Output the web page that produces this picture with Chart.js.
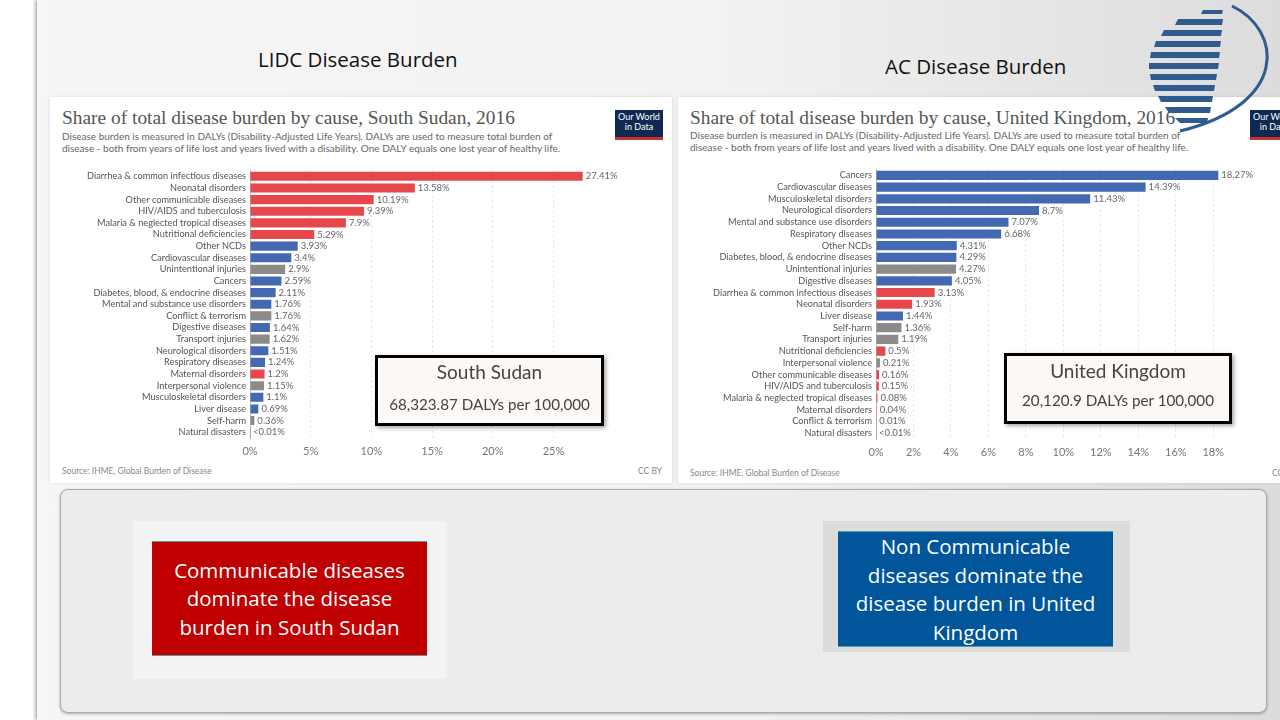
<!DOCTYPE html>
<html><head><meta charset="utf-8">
<script src="https://cdn.jsdelivr.net/npm/chart.js@4.4.1/dist/chart.umd.min.js"></script>
<style>
html,body{margin:0;padding:0;width:1280px;height:720px;overflow:hidden;background:#fff;}
#slide{position:absolute;left:37px;top:0;width:1243px;height:720px;background:linear-gradient(to right,#f6f6f6 0%,#f2f2f2 55%,#dcdcdc 100%);box-shadow:-2px 0 3px rgba(0,0,0,0.3);}
.abs{position:absolute;}
.hdr{position:absolute;font-family:'Open Sans';font-size:20.5px;color:#111;white-space:nowrap;}
.panel{position:absolute;background:#fff;box-shadow:0 0 3px rgba(0,0,0,0.12);}
.ttl{position:absolute;font-family:'Liberation Serif';font-size:19.4px;color:#555;white-space:nowrap;}
.sub{position:absolute;font-family:'Lato';font-size:10px;line-height:12px;color:#666;white-space:nowrap;}
.src{position:absolute;font-family:'Lato';font-size:8.5px;color:#888;white-space:nowrap;}
.owid{position:absolute;width:48px;height:25px;background:#0f2a52;border-bottom:3px solid #c8312b;color:#fff;font-family:'Lato';font-size:9px;line-height:10px;text-align:center;padding-top:2px;box-sizing:content-box;}
.ov{position:absolute;background:#fcf9f7;border:3px solid #000;box-shadow:2px 2px 4px rgba(0,0,0,0.35);text-align:center;font-family:'Lato';color:#444;}
.ov .a{font-size:19px;position:absolute;left:0;right:0;}
.ov .b{font-size:15.2px;position:absolute;left:0;right:0;}
canvas{position:absolute;}
.msg{position:absolute;display:flex;align-items:center;justify-content:center;text-align:center;color:#fff;font-family:'Open Sans';font-size:20.5px;line-height:28.5px;box-sizing:border-box;}
</style></head>
<body>
<div id="slide"></div>
<div class="hdr" style="left:258px;top:45px;">LIDC Disease Burden</div>
<div class="hdr" style="left:885px;top:52px;">AC Disease Burden</div>

<div class="panel" style="left:50px;top:97px;width:622px;height:386px;"></div>
<div class="panel" style="left:678px;top:97px;width:602px;height:386px;"></div>

<div class="ttl" style="left:62px;top:107px;">Share of total disease burden by cause, South Sudan, 2016</div>
<div class="sub" style="left:62px;top:130px;">Disease burden is measured in DALYs (Disability-Adjusted Life Years). DALYs are used to measure total burden of<br>disease - both from years of life lost and years lived with a disability. One DALY equals one lost year of healthy life.</div>
<div class="owid" style="left:615px;top:110px;">Our World<br>in Data</div>
<div class="src" style="left:62px;top:466px;">Source: IHME, Global Burden of Disease</div>
<div class="src" style="left:638px;top:466px;">CC BY</div>

<div class="ttl" style="left:690px;top:107px;">Share of total disease burden by cause, United Kingdom, 2016</div>
<div class="sub" style="left:690px;top:129px;">Disease burden is measured in DALYs (Disability-Adjusted Life Years). DALYs are used to measure total burden of<br>disease - both from years of life lost and years lived with a disability. One DALY equals one lost year of healthy life.</div>
<div class="owid" style="left:1250px;top:110px;">Our World<br>in Data</div>
<div class="src" style="left:690px;top:468px;">Source: IHME, Global Burden of Disease</div>
<div class="src" style="left:1272px;top:468px;">CC BY</div>

<canvas id="c1" width="622" height="304" style="left:50px;top:161px;"></canvas>
<canvas id="c2" width="602" height="305" style="left:678px;top:160px;"></canvas>

<div class="ov" style="left:375px;top:355px;width:223px;height:65px;"><div class="a" style="top:2px;">South Sudan</div><div class="b" style="top:37px;">68,323.87 DALYs per 100,000</div></div>
<div class="ov" style="left:1004px;top:353px;width:222px;height:65px;"><div class="a" style="top:3px;">United Kingdom</div><div class="b" style="top:35px;">20,120.9 DALYs per 100,000</div></div>

<svg class="abs" style="left:1140px;top:0px;" width="140" height="140" viewBox="1140 0 140 140">
 <g fill="#2f5b8e">
  <polygon points="1203,10 1223,10 1222,14 1201,14"/>
  <polygon points="1178,19 1223,19 1222,25 1175,25"/>
  <polygon points="1164,30 1222,30 1221,36 1161,36"/>
  <polygon points="1156,41 1221,41 1220,47 1154,47"/>
  <polygon points="1151,52 1220,52 1219,58 1150,58"/>
  <polygon points="1149,63 1219,63 1218,69 1149,69"/>
  <polygon points="1150,74 1217,74 1216,80 1151,80"/>
  <polygon points="1153,85 1215,85 1214,91 1155,91"/>
  <polygon points="1158,96 1213,96 1212,102 1161,102"/>
  <polygon points="1165,107 1211,107 1210,113 1169,113"/>
  <polygon points="1175,118 1208,118 1207,123 1180,123"/>
 </g>
 <path d="M1232,6 C1282,30 1290,104 1180,131" fill="none" stroke="#2f5b8e" stroke-width="3"/>
</svg>

<div class="abs" style="left:60px;top:489px;width:1205px;height:222px;background:#ececec;border:1px solid #a9a9a9;border-radius:8px;box-shadow:0 1px 3px rgba(0,0,0,0.3);"></div>
<div class="abs" style="left:133px;top:521px;width:314px;height:158px;background:#f3f3f3;"></div>
<div class="msg" style="left:152px;top:541px;width:275px;height:115px;background:#c00000;border-top:1px solid #5a9a9a;border-bottom:1px solid #5a9a9a;">Communicable diseases<br>dominate the disease<br>burden in South Sudan</div>
<div class="abs" style="left:823px;top:521px;width:307px;height:131px;background:#dcdcdc;"></div>
<div class="msg" style="left:838px;top:531px;width:275px;height:116px;background:#00559b;border-top:1px solid #5a9a9a;border-bottom:1px solid #5a9a9a;">Non Communicable<br>diseases dominate the<br>disease burden in United<br>Kingdom</div>

<script>
const ssCategories = ["Diarrhea & common infectious diseases","Neonatal disorders","Other communicable diseases","HIV/AIDS and tuberculosis","Malaria & neglected tropical diseases","Nutritional deficiencies","Other NCDs","Cardiovascular diseases","Unintentional injuries","Cancers","Diabetes, blood, & endocrine diseases","Mental and substance use disorders","Conflict & terrorism","Digestive diseases","Transport injuries","Neurological disorders","Respiratory diseases","Maternal disorders","Interpersonal violence","Musculoskeletal disorders","Liver disease","Self-harm","Natural disasters"];
const ssValues = [27.41,13.58,10.19,9.39,7.9,5.29,3.93,3.4,2.9,2.59,2.11,1.76,1.76,1.64,1.62,1.51,1.24,1.2,1.15,1.1,0.69,0.36,0.004];
const ssGroups = ["C","C","C","C","C","C","N","N","I","N","N","N","I","N","I","N","N","C","I","N","N","I","I"];
const ssTicks = [0,5,10,15,20,25];

const ukCategories = ["Cancers","Cardiovascular diseases","Musculoskeletal disorders","Neurological disorders","Mental and substance use disorders","Respiratory diseases","Other NCDs","Diabetes, blood, & endocrine diseases","Unintentional injuries","Digestive diseases","Diarrhea & common infectious diseases","Neonatal disorders","Liver disease","Self-harm","Transport injuries","Nutritional deficiencies","Interpersonal violence","Other communicable diseases","HIV/AIDS and tuberculosis","Malaria & neglected tropical diseases","Maternal disorders","Conflict & terrorism","Natural disasters"];
const ukValues = [18.27,14.39,11.43,8.7,7.07,6.68,4.31,4.29,4.27,4.05,3.13,1.93,1.44,1.36,1.19,0.5,0.21,0.16,0.15,0.08,0.04,0.01,0.004];
const ukGroups = ["N","N","N","N","N","N","N","N","I","N","C","C","N","I","I","C","I","C","C","C","C","I","I"];
const ukTicks = [0,2,4,6,8,10,12,14,16,18];

const groupColor = {C:"#e6474b", N:"#4369b2", I:"#8b8b8b"};

const valueLabels = {
  id:'valueLabels',
  afterDatasetsDraw(chart){
    const ctx = chart.ctx;
    const meta = chart.getDatasetMeta(0);
    const vals = chart.data.datasets[0].data;
    ctx.save();
    ctx.font = '9.5px Lato';
    ctx.fillStyle = '#666';
    ctx.textBaseline = 'middle';
    ctx.textAlign = 'left';
    meta.data.forEach((bar,i)=>{
      const v = vals[i];
      const t = v < 0.01 ? '<0.01%' : v + '%';
      ctx.fillText(t, bar.x + 3, bar.y);
    });
    ctx.restore();
  }
};

function makeChart(id, cats, vals, groups, ticks, max, yW, padR, padT, xH){
  return new Chart(document.getElementById(id), {
    type:'bar',
    data:{labels:cats, datasets:[{data:vals, backgroundColor:groups.map(g=>groupColor[g]), categoryPercentage:1, barPercentage:0.78, borderWidth:0}]},
    options:{
      indexAxis:'y', responsive:false, animation:false, devicePixelRatio:1,
      layout:{padding:{left:0,right:padR,top:padT,bottom:0}},
      plugins:{legend:{display:false}, tooltip:{enabled:false}},
      scales:{
        x:{min:0, max:max,
           afterBuildTicks(s){ s.ticks = ticks.map(v=>({value:v})); },
           afterFit(s){ s.height = xH; },
           ticks:{callback:v=>v+'%', color:'#777', font:{family:'Lato', size:11}, padding:7, maxRotation:0, autoSkip:false},
           grid:{drawTicks:false, color:'#e0e0e0'},
           border:{display:false, dash:[2,3]}},
        y:{afterFit(s){ s.width = yW; },
           ticks:{color:'#555', font:{family:'Lato', size:9.2}, padding:4, autoSkip:false},
           grid:{display:false, drawTicks:false},
           border:{display:true, color:'#bbb'}}
      }
    },
    plugins:[valueLabels]
  });
}

makeChart('c1', ssCategories, ssValues, ssGroups, ssTicks, 29, 200, 70, 5, 27);
makeChart('c2', ukCategories, ukValues, ukGroups, ukTicks, 19, 198, 48, 4, 26);
</script>
</body></html>
